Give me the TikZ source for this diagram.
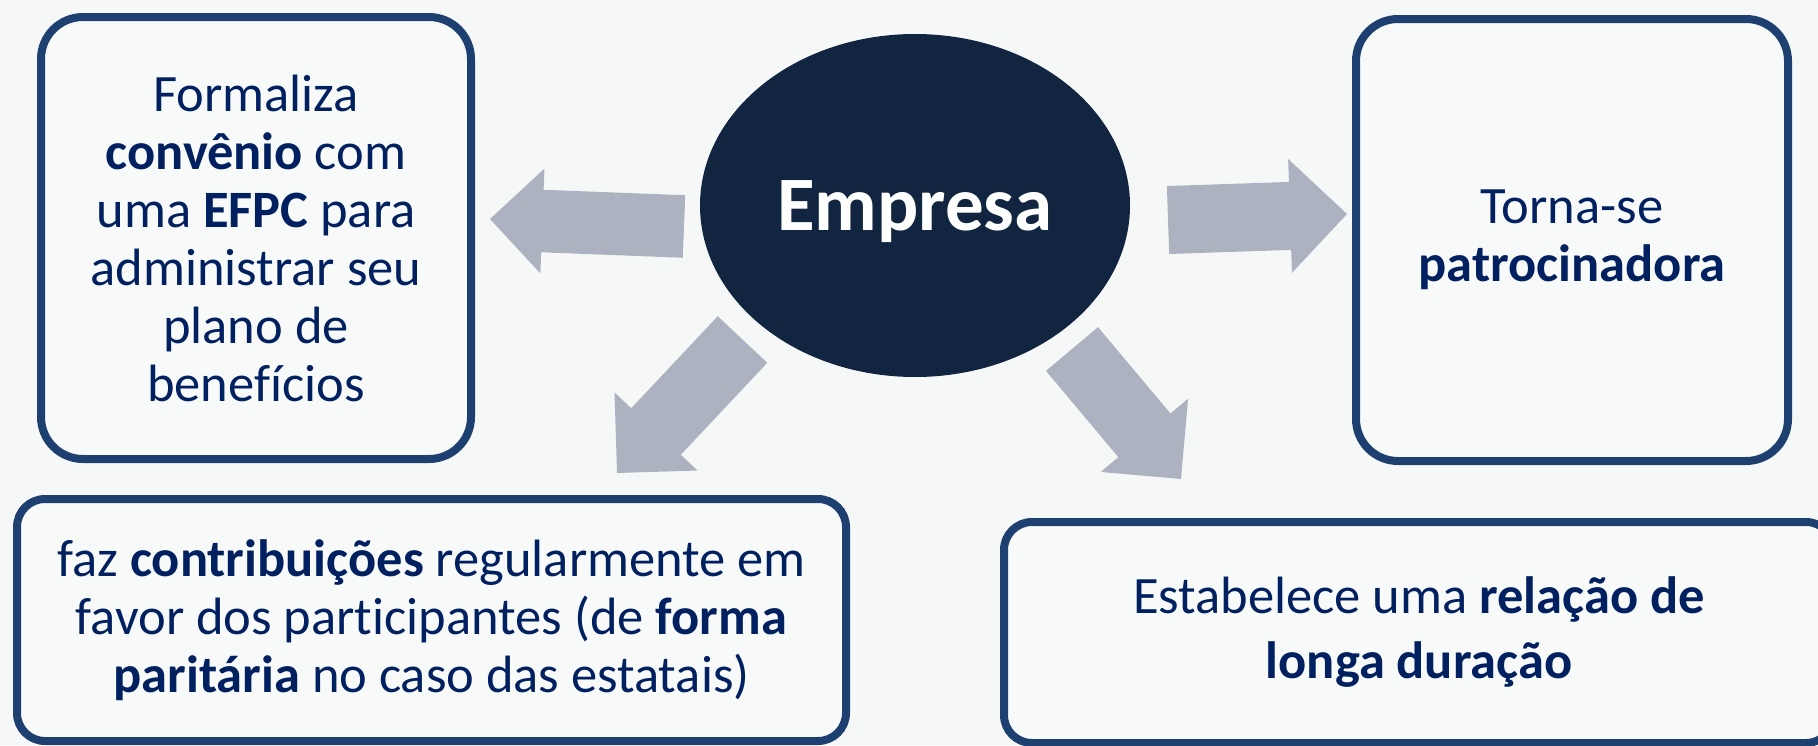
\documentclass[tikz,border=0pt]{standalone}
\usepackage{fontspec}
\setmainfont{Carlito}[Ligatures=NoCommon]
\usetikzlibrary{calc,shapes.geometric}

\definecolor{fundo}{RGB}{246,248,248}
\definecolor{caixafundo}{RGB}{248,250,250}
\definecolor{caixaborda}{RGB}{30,64,112}
\definecolor{textoazul}{RGB}{0,32,96}
\definecolor{empresaazul}{RGB}{18,37,64}
\definecolor{setacinza}{RGB}{173,178,192}

\tikzstyle{caixa}=[draw=caixaborda,line width=8pt,fill=caixafundo,rounded corners=42pt,align=center,text=textoazul,inner sep=0pt,font=\fontsize{52.5}{58}\selectfont]
\tikzstyle{faixa}=[caixa,rounded corners=28pt]
\tikzstyle{centro}=[ellipse,fill=empresaazul,inner sep=0pt,text=white,text depth=0pt,font=\fontsize{77}{80}\selectfont\bfseries]

% seta larga: [escala]{cauda}{ponta}
\newcommand{\seta}[3][1]{%
  \fill[setacinza] let \p1=($(#3)-(#2)$), \n1={atan2(\y1,\x1)}, \n2={veclen(\x1,\y1)-57pt*#1} in
    ($(#2)+(\n1+90:34pt*#1)$) -- ($(#2)+(\n1:\n2)+(\n1+90:34pt*#1)$)
    -- ($(#2)+(\n1:\n2)+(\n1+90:57pt*#1)$) -- (#3)
    -- ($(#2)+(\n1:\n2)+(\n1-90:57pt*#1)$) -- ($(#2)+(\n1:\n2)+(\n1-90:34pt*#1)$)
    -- ($(#2)+(\n1-90:34pt*#1)$) -- cycle;}

\begin{document}
\begin{tikzpicture}[x=1pt,y=-1pt]
    \useasboundingbox (0,0) rectangle (1818,745);
    \fill[fundo] (0,0) rectangle (1818,745);
		\node[centro,minimum width=430pt,minimum height=343pt] (empresa) at (915,205.5) {Empresa};
		\node[caixa,minimum width=430pt,minimum height=442pt] (convenio) at (256,238)
			{Formaliza\\ \textbf{convênio} com\\ uma \textbf{EFPC} para\\ administrar seu\\ plano de\\ benefícios};
		\node[caixa,minimum width=432pt,minimum height=442pt] (patrocinadora) at (1572,240)
			{Torna-se\\ \textbf{patrocinadora}};
		\node[faixa,minimum width=829pt,minimum height=242pt] (contribuicoes) at (431.5,620)
			{faz \textbf{contribuições} regularmente em\\ favor dos participantes (de \textbf{forma}\\ \textbf{paritária} no caso das estatais)};
		\node[faixa,minimum width=830pt,minimum height=221pt,font=\fontsize{52.5}{65}\selectfont] (relacao) at (1419,632.5)
			{Estabelece uma \textbf{relação de}\\ \textbf{longa duração}};
    		% pontas das setas
		\coordinate (caudaE) at (684,226.5);  \coordinate (pontaE) at (490,219);
		\coordinate (caudaD) at (1168,220);   \coordinate (pontaD) at (1347,214);
		\coordinate (caudaSE) at (742.5,339.5); \coordinate (pontaSE) at (617,473);
		\coordinate (caudaSD) at (1072,349);  \coordinate (pontaSD) at (1181,479);
   		 % setas saindo da empresa
		\seta[0.92]{caudaE}{pontaE}
		\foreach \cauda/ \ponta in {caudaD/pontaD, caudaSE/pontaSE, caudaSD/pontaSD}
        		\seta{\cauda}{\ponta};
\end{tikzpicture}
\end{document}
